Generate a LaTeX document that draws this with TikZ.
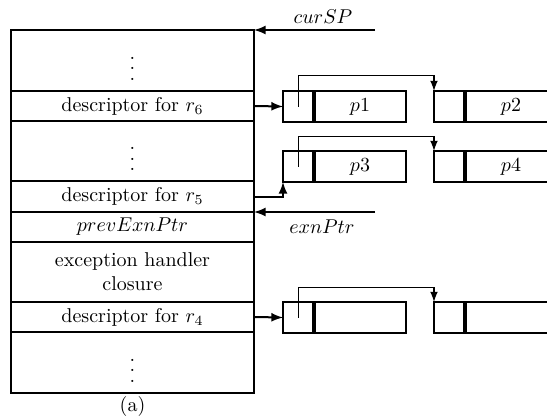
\documentclass[tikz,border=0pt]{standalone}
\usepackage{amsmath}
\usepackage{tikz}
\usetikzlibrary{positioning}

\newcommand{\stackdots}{\vbox{\baselineskip5.25pt\lineskiplimit0pt\kern8pt\hbox{.}\hbox{.}\hbox{.}}}

\begin{document}
\begin{tikzpicture}[x=0.5pt,y=-0.5pt,>=latex,
    stack cell/.style={draw,line width=1pt,minimum width=121.5pt,inner sep=0pt,outer sep=0pt,align=center},
    ptr cell/.style={draw,line width=1pt,minimum width=15.5pt,minimum height=15.5pt,inner sep=0pt,outer sep=0pt},
    data cell/.style={draw,line width=1pt,minimum width=46pt,minimum height=15.5pt,inner sep=0pt,outer sep=0pt},
    ptr/.style={->,line width=1pt},
    link/.style={->,line width=0.75pt},
    divider/.style={line width=1.8pt},
    ]
  \useasboundingbox (0,0) rectangle (547,418);
  \clip (0,0) rectangle (547,418);

  % the stack
  \node[stack cell, minimum height=30.5pt] (top) at (132.5,60.5) {\stackdots};
  \node[stack cell, minimum height=15pt, below=0pt of top] (d6) {descriptor for $r_6$};
  \node[stack cell, minimum height=30pt, below=0pt of d6] (mid) {\stackdots};
  \node[stack cell, minimum height=15.5pt, below=0pt of mid] (d5) {descriptor for $r_5$};
  \node[stack cell, minimum height=15pt, below=0pt of d5] (prev) {$prevExnPtr$};
  \node[stack cell, minimum height=30pt, below=0pt of prev] (exc) {exception handler\\closure};
  \node[stack cell, minimum height=15pt, below=0pt of exc] (d4) {descriptor for $r_4$};
  \node[stack cell, minimum height=30.5pt, below=0pt of d4] (bot) {\stackdots};
  \node (cap) at (132.5,406) {(a)};

  % stack pointers
  \coordinate (sp) at (375,30);
  \coordinate (ep) at (375,212);
  \draw[ptr] (sp) -- (top.north east);
  \draw[ptr] (ep) -- (d5.south east);
  \node (cursp) at (323,17) {$curSP$};
  \node (exnptr) at (322,227) {$exnPtr$};

  % the lists
  \node[ptr cell] (c1) at (298.5,106.5) {};
  \node[data cell, right=0pt of c1] (p1) {$p1$};
  \node[ptr cell] (c2) at (449.5,106.5) {};
  \node[data cell, right=0pt of c2] (p2) {$p2$};
  \node[ptr cell] (c3) at (298.5,166.5) {};
  \node[data cell, right=0pt of c3] (p3) {$p3$};
  \node[ptr cell] (c4) at (449.5,166.5) {};
  \node[data cell, right=0pt of c4] (p4) {$p4$};
  \node[ptr cell] (c5) at (298.5,317.5) {};
  \node[data cell, right=0pt of c5] (p5) {};
  \node[ptr cell] (c6) at (449.5,317.5) {};
  \node[data cell, right=0pt of c6] (p6) {};

  \foreach \n in {p1,p2,p3,p4,p5,p6}
    \draw[divider] (\n.north west) -- (\n.south west);

  \draw[ptr] (d6.east) -- (c1.west);
  \draw[ptr] (d5.east) -| (c3.south west);
  \draw[ptr] (d4.east) -- (c5.west);

  \draw[link] (c1.center) -- ++(0,-31) -| (c2.north west);
  \draw[link] (c3.center) -- ++(0,-30) -| (c4.north west);
  \draw[link] (c5.center) -- ++(0,-30) -| (c6.north west);
\end{tikzpicture}
\end{document}
